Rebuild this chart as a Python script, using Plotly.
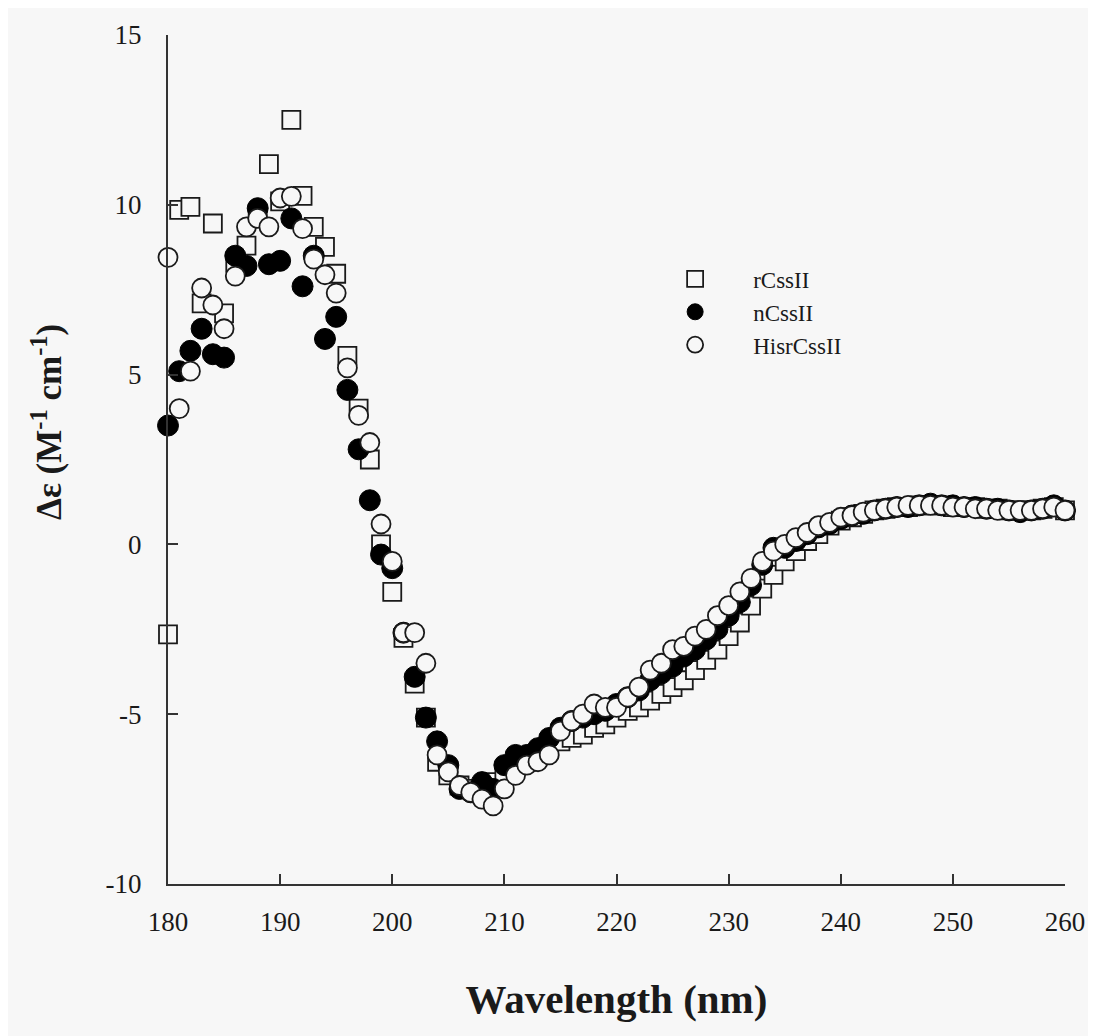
import plotly.graph_objects as go

wavelength = list(range(180, 261))

rCssII = [
    -2.65, 9.85, 9.94, 7.1, 9.45, 6.8, 8.3, 8.8, 9.7, 11.2,
    10.1, 12.5, 10.26, 9.35, 8.76, 7.97, 5.55, 4.0, 2.5, 0.0,
    -1.4, -2.75, -4.1, -5.1, -6.4, -6.8, -7.1, -7.2, -7.2, -7.0,
    -6.8, -6.5, -6.4, -6.2, -6.0, -5.8, -5.7, -5.6, -5.4, -5.3,
    -5.1, -4.9, -4.8, -4.6, -4.4, -4.2, -4.0, -3.7, -3.4, -3.1,
    -2.7, -2.3, -1.8, -1.3, -0.9, -0.5, -0.2, 0.1, 0.3, 0.55,
    0.7, 0.8, 0.9, 1.0, 1.05, 1.1, 1.1, 1.15, 1.15, 1.15,
    1.1, 1.1, 1.1, 1.05, 1.05, 1.0, 1.0, 1.0, 1.05, 1.1,
    1.0,
]

nCssII = [
    3.5, 5.1, 5.7, 6.35, 5.6, 5.5, 8.5, 8.2, 9.9, 8.25,
    8.35, 9.6, 7.6, 8.5, 6.05, 6.7, 4.55, 2.8, 1.3, -0.3,
    -0.7, -2.6, -3.9, -5.1, -5.8, -6.5, -7.2, -7.3, -7.0, -7.2,
    -6.5, -6.2, -6.2, -6.0, -5.7, -5.4, -5.2, -5.1, -5.0, -4.9,
    -4.7, -4.5, -4.3, -4.0, -3.8, -3.6, -3.3, -3.1, -2.8, -2.5,
    -2.1, -1.7, -1.2, -0.6, -0.1, -0.1, 0.1, 0.3, 0.5, 0.6,
    0.75, 0.85, 0.9, 1.0, 1.05, 1.1, 1.1, 1.15, 1.2, 1.15,
    1.15, 1.1, 1.1, 1.05, 1.05, 1.0, 0.95, 1.0, 1.05, 1.15,
    1.0,
]

HisrCssII = [
    8.45, 4.0, 5.1, 7.55, 7.05, 6.35, 7.9, 9.35, 9.6, 9.35,
    10.2, 10.25, 9.3, 8.4, 7.94, 7.4, 5.2, 3.8, 3.0, 0.6,
    -0.5, -2.6, -2.6, -3.5, -6.2, -6.7, -7.1, -7.3, -7.5, -7.7,
    -7.2, -6.8, -6.5, -6.4, -6.2, -5.5, -5.2, -5.0, -4.7, -4.8,
    -4.8, -4.5, -4.2, -3.7, -3.5, -3.1, -3.0, -2.7, -2.5, -2.1,
    -1.8, -1.4, -1.0, -0.5, -0.2, 0.0, 0.2, 0.35, 0.55, 0.65,
    0.8, 0.85, 0.95, 1.0, 1.05, 1.1, 1.15, 1.15, 1.15, 1.15,
    1.1, 1.1, 1.05, 1.05, 1.0, 1.0, 1.0, 1.0, 1.05, 1.1,
    1.0,
]

x_ticks = [180, 190, 200, 210, 220, 230, 240, 250, 260]
y_ticks = [-10, -5, 0, 5, 10, 15]
y_ticktext = ["-10", "-5", "0", "5", "10", "15"]

BG = "#f7f7f7"
INK = "#1a1a1a"
SERIF = "Liberation Serif"

fig = go.Figure()
fig.add_trace(go.Scatter(
    x=wavelength, y=rCssII, mode="markers", name="rCssII", cliponaxis=False,
    marker=dict(symbol="square", size=18, color=BG,
                line=dict(color=INK, width=1.8)),
))
fig.add_trace(go.Scatter(
    x=wavelength, y=nCssII, mode="markers", name="nCssII", cliponaxis=False,
    marker=dict(symbol="circle", size=21, color="#000000",
                line=dict(color="#000000", width=1)),
))
fig.add_trace(go.Scatter(
    x=wavelength, y=HisrCssII, mode="markers", name="HisrCssII", cliponaxis=False,
    marker=dict(symbol="circle", size=19, color=BG,
                line=dict(color=INK, width=1.8)),
))

fig.update_layout(
    width=1096, height=1036,
    paper_bgcolor=BG, plot_bgcolor=BG,
    margin=dict(l=160, r=39, t=25, b=160),
    font=dict(family=SERIF, color=INK, size=20),
    showlegend=True,
    legend=dict(
        x=0.523, y=0.738, xanchor="left", yanchor="top",
        bgcolor="rgba(0,0,0,0)", font=dict(family=SERIF, size=23, color=INK),
        itemsizing="trace", tracegroupgap=0, itemwidth=106,
    ),
    xaxis=dict(
        range=[180, 260], tickvals=x_ticks, ticks="inside", ticklen=10,
        tickwidth=1.5, tickcolor="#333333", showline=True, linecolor="#333333",
        linewidth=2, showgrid=False, zeroline=False, mirror=False,
        ticklabelstandoff=13,
        tickfont=dict(family=SERIF, size=27, color=INK),
        title=dict(text="<b>Wavelength (nm)</b>", standoff=48,
                   font=dict(family=SERIF, size=41, color=INK)),
    ),
    yaxis=dict(
        range=[-10, 15], tickvals=y_ticks, ticktext=y_ticktext,
        ticks="inside", ticklen=10,
        tickwidth=1.5, tickcolor="#333333", showline=True, linecolor="#333333",
        linewidth=2, showgrid=False, zeroline=False, mirror=False,
        ticklabelstandoff=19,
        tickfont=dict(family=SERIF, size=27, color=INK),
    ),
    annotations=[dict(
        text="<b>Δε (M<sup>-1</sup> cm<sup>-1</sup>)</b>",
        xref="paper", yref="paper", x=-0.135, y=0.544,
        xanchor="center", yanchor="middle", textangle=-90, showarrow=False,
        font=dict(family=SERIF, size=35, color=INK),
    )],
)

fig.write_html("out.html")
